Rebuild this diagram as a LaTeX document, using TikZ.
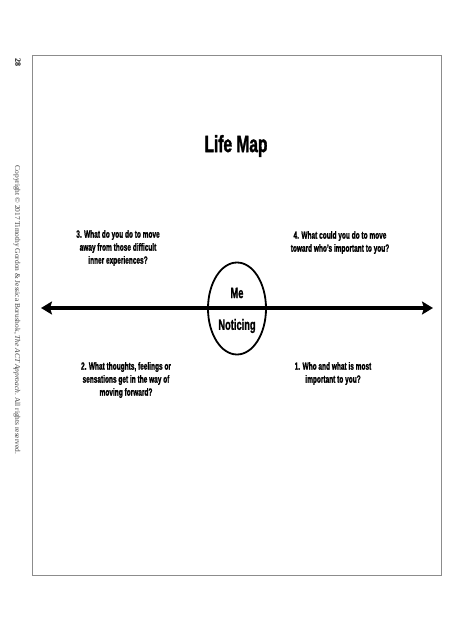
\documentclass[tikz,border=0pt]{standalone}
\usepackage{fontspec}
\usetikzlibrary{arrows.meta,shapes.geometric}
\setmainfont{Liberation Serif}
\newfontfamily\cond[FakeStretch=0.62,FakeBold=1.2]{Liberation Sans}
\newfontfamily\condtitle[FakeStretch=0.66,FakeBold=1.5]{Liberation Sans}
\begin{document}
\begin{tikzpicture}[x=1pt,y=-1pt,
  qtext/.style={font=\cond\bfseries\fontsize{10.5}{13}\selectfont, align=center, inner sep=0pt},
  frame/.style={draw=black!45, line width=1.2pt}]
\useasboundingbox (0,0) rectangle (474,632);
\fill[white] (0,0) rectangle (474,632);
% page frame
\node[frame, minimum width=409pt, minimum height=520pt, inner sep=0pt, anchor=north west] (page) at (32,55) {};
% side texts
\node[rotate=-90, font=\bfseries\fontsize{8}{8}\selectfont, inner sep=0pt] (num) at (18,62) {28};
\node[rotate=-90, font=\fontsize{7.4}{8}\selectfont, text=black!75, inner sep=0pt] (copy) at (17,310)
  {Copyright © 2017 Timothy Gordon \& Jessica Borushok, \textit{The ACT Approach}. All rights reserved.};
% title
\node[font=\condtitle\bfseries\fontsize{23.5}{26}\selectfont, inner sep=0pt] (title) at (236,146) {Life Map};
% axis
\coordinate (L) at (41,308);
\coordinate (R) at (433,308);
\draw[line width=3.6pt, {Stealth[length=11pt,width=13pt,inset=2pt]}-{Stealth[length=11pt,width=13pt,inset=2pt]}] (L) -- (R);
% ellipse
\node[ellipse, draw, line width=1.8pt, minimum width=58pt, minimum height=92pt, inner sep=0pt] (me) at (237,308.5) {};
\node[font=\cond\bfseries\fontsize{15}{17}\selectfont, inner sep=0pt] (metext) at (237,293) {Me};
\node[font=\cond\bfseries\fontsize{15}{17}\selectfont, inner sep=0pt] (notice) at (237,326) {Noticing};
% questions
\node[qtext] (q3) at (118,248) {3. What do you do to move\\away from those difficult\\inner experiences?};
\node[qtext] (q4) at (340,242.5) {4. What could you do to move\\toward who’s important to you?};
\node[qtext] (q2) at (126,380) {2. What thoughts, feelings or\\sensations get in the way of\\moving forward?};
\node[qtext] (q1) at (333,373.5) {1. Who and what is most\\important to you?};
\end{tikzpicture}
\end{document}
